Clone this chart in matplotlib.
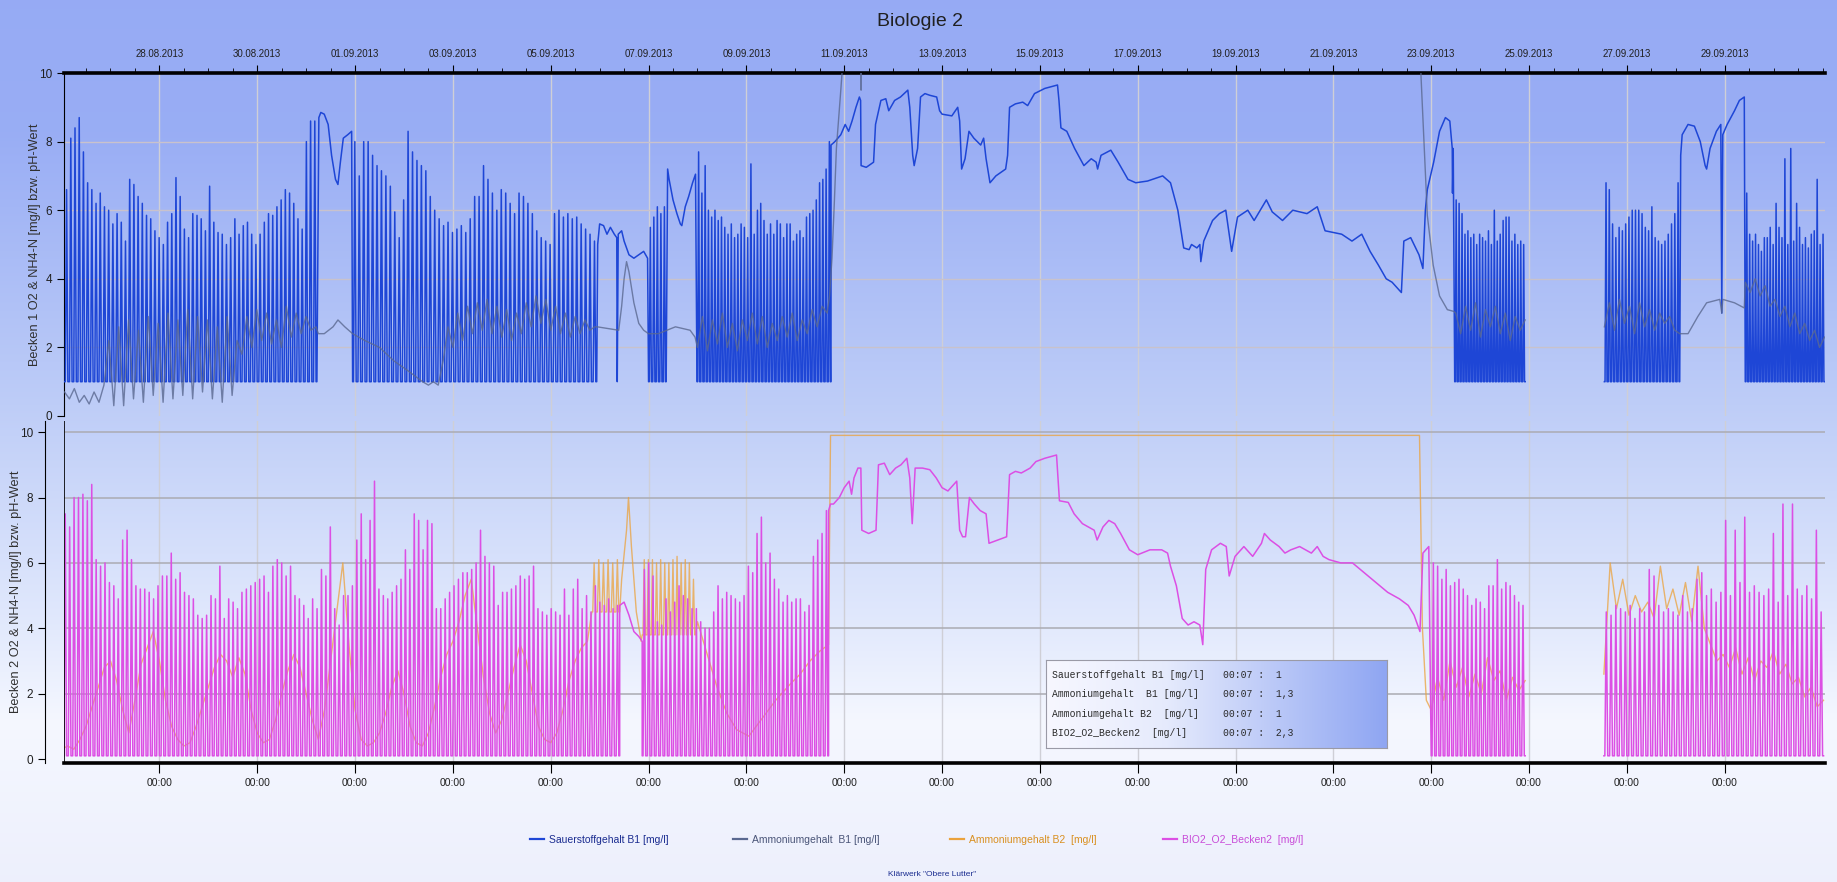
import numpy as np
import matplotlib
matplotlib.use('Agg')
import matplotlib.pyplot as plt
import matplotlib.dates as mdates
from matplotlib.ticker import FixedLocator
from matplotlib.lines import Line2D
from datetime import datetime

plt.rcParams['font.family'] = ['Liberation Sans', 'DejaVu Sans']
NARROW = ['Liberation Sans Narrow', 'Liberation Sans', 'DejaVu Sans']

# time axis: days after 26.08.2013 00:00
START = mdates.date2num(datetime(2013, 8, 26))
X_FROM, X_TO = 0.05, 36.05

#-----------------------------------------------------------------------------#
# Becken 1 - Sauerstoffgehalt B1 [mg/l]
# spike segments: (start day, end day, peak per aeration cycle), trough 1.0
O2B1_A = (0.06, 5.22, [6.6, 8.1, 8.4, 8.7, 7.7, 6.8, 6.6, 6.2, 6.5, 6.1, 6.0, 5.6, 5.9, 5.65,
                       5.1, 6.9, 6.75, 6.4, 6.2, 5.85, 5.75, 5.4, 5.2, 5.0, 5.65, 5.9, 6.95, 6.4,
                       5.45, 5.2, 5.9, 5.85, 5.75, 5.4, 6.7, 5.65, 5.35, 5.3, 5.0, 5.2, 5.75, 5.3,
                       5.55, 5.65, 5.3, 5.0, 5.3, 5.65, 5.9, 5.85, 6.1, 6.3, 6.6, 6.5, 6.2, 5.75,
                       5.45, 8.0, 8.6, 8.6])
O2B1_B = (5.95, 10.94, [8.0, 7.0, 8.0, 8.0, 7.6, 7.3, 7.15, 7.0, 6.7, 5.95, 5.2, 6.3, 8.3, 7.7,
                        7.45, 7.3, 7.15, 6.4, 6.0, 5.75, 5.55, 5.65, 5.35, 5.45, 5.55, 5.35, 5.75,
                        6.4, 6.4, 7.3, 6.9, 6.5, 6.0, 6.6, 6.5, 6.2, 5.9, 6.5, 6.4, 6.2, 5.9, 5.4,
                        5.2, 5.1, 5.0, 5.9, 6.0, 5.8, 5.9, 5.75, 5.8, 5.6, 5.45, 5.3, 5.1])
O2B1_B1 = (12.0, 12.36, [5.5, 5.8, 6.1, 5.9, 6.1])
O2B1_B2 = (12.99, 15.73, [7.7, 6.5, 7.3, 6.0, 5.8, 6.0, 5.7, 5.8, 5.5, 5.3, 5.6, 5.2, 5.3, 5.6,
                         5.5, 5.2, 7.35, 5.3, 6.0, 6.2, 5.7, 5.3, 5.6, 5.3, 5.7, 5.6, 5.2, 5.6,
                         5.6, 5.1, 5.3, 5.4, 5.2, 5.8, 5.9, 6.0, 6.3, 6.8, 6.9, 7.2, 8.0])
O2B1_C = (28.48, 29.92, [6.3, 6.2, 5.9, 5.3, 5.4, 5.2, 5.3, 5.0, 5.3, 5.2, 5.1, 5.4, 5.0, 6.0,
                         5.1, 5.3, 5.7, 5.8, 5.8, 5.1, 5.3, 5.0, 5.1, 5.0])
O2B1_D = (31.54, 33.08, [6.8, 6.6, 5.6, 5.2, 5.5, 5.4, 5.6, 5.8, 6.0, 6.0, 6.0, 5.9, 5.5, 5.4,
                         6.1, 5.2, 5.1, 5.0, 5.1, 5.3, 5.6, 5.9, 6.8])
O2B1_E = (34.42, 36.04, [6.5, 5.3, 5.1, 5.3, 5.0, 4.8, 5.2, 5.2, 5.5, 5.0, 6.2, 5.5, 5.2, 7.5,
                         5.0, 7.8, 5.1, 6.2, 5.5, 5.0, 5.2, 4.9, 5.3, 5.4, 6.9, 5.0, 5.3])
# continuous stretches (day, value)
O2B1_H1_T = [5.22, 5.26, 5.30, 5.37, 5.45, 5.52, 5.60, 5.65, 5.70, 5.76, 5.85, 5.93, 5.95]
O2B1_H1_V = [1.0, 8.7, 8.85, 8.8, 8.5, 7.6, 6.9, 6.75, 7.4, 8.1, 8.2, 8.3, 1.0]
O2B1_S1_T = [10.94, 10.96, 11.0, 11.08, 11.15, 11.22, 11.3, 11.35, 11.36, 11.38, 11.45, 11.5,
             11.6, 11.7, 11.8, 11.9, 11.98, 12.0]
O2B1_S1_V = [1.0, 5.0, 5.6, 5.55, 5.3, 5.5, 5.3, 5.2, 1.0, 5.3, 5.4, 5.1, 4.7, 4.6, 4.7, 4.8,
             4.6, 1.0]
O2B1_H2_T = [12.36, 12.39, 12.42, 12.5, 12.58, 12.65, 12.68, 12.75, 12.82, 12.9, 12.96, 12.99]
O2B1_H2_V = [1.0, 7.2, 6.9, 6.3, 5.9, 5.6, 5.55, 6.1, 6.4, 6.8, 7.05, 1.0]
O2B1_S2_T = [15.73, 15.81, 15.93, 16.02, 16.09, 16.16, 16.24, 16.31, 16.335, 16.345, 16.45,
             16.6, 16.64, 16.75, 16.85, 16.91, 17.03, 17.15, 17.3, 17.34, 17.4, 17.43, 17.5,
             17.56, 17.65, 17.75, 17.89, 17.95, 18.0, 18.2, 18.32, 18.36, 18.40, 18.47, 18.55,
             18.65, 18.79, 18.85, 18.9, 18.98, 19.1, 19.3, 19.34, 19.38, 19.5, 19.65, 19.75,
             19.89, 20.1, 20.36, 20.39, 20.43, 20.55, 20.71, 20.9, 21.05, 21.15, 21.18, 21.25,
             21.45, 21.6, 21.8, 21.96, 22.2, 22.51, 22.67, 22.82, 22.94, 23.05, 23.1, 23.21,
             23.27, 23.29, 23.35, 23.53, 23.67, 23.8, 23.92, 24.04, 24.25, 24.38, 24.63, 24.75,
             24.96, 25.17, 25.46, 25.67, 25.83, 26.17, 26.38, 26.58, 26.75, 26.92, 27.08, 27.2,
             27.39, 27.44, 27.58, 27.75, 27.83, 27.88, 27.92, 28.05, 28.17, 28.29, 28.38, 28.43,
             28.435, 28.45, 28.48]
O2B1_S2_V = [7.9, 8.0, 8.2, 8.5, 8.3, 8.6, 9.0, 9.3, 9.2, 7.3, 7.25, 7.4, 8.5, 9.2, 9.25, 8.9,
             9.2, 9.3, 9.5, 9.0, 7.6, 7.3, 7.8, 9.3, 9.4, 9.35, 9.3, 8.9, 8.8, 8.75, 9.0, 8.6,
             7.2, 7.5, 8.3, 8.1, 7.9, 8.1, 7.5, 6.8, 7.0, 7.2, 7.6, 9.0, 9.1, 9.15, 9.05, 9.4,
             9.55, 9.65, 9.2, 8.4, 8.3, 7.8, 7.3, 7.5, 7.4, 7.2, 7.6, 7.75, 7.4, 6.9, 6.8, 6.85,
             7.0, 6.8, 6.0, 4.9, 4.85, 5.0, 4.9, 5.0, 4.5, 5.1, 5.7, 5.9, 6.0, 4.8, 5.8, 6.0,
             5.7, 6.3, 5.95, 5.7, 6.0, 5.9, 6.1, 5.4, 5.3, 5.1, 5.3, 4.8, 4.4, 4.0, 3.9, 3.6,
             5.1, 5.2, 4.7, 4.3, 6.0, 6.6, 7.4, 8.3, 8.7, 8.6, 7.8, 6.5, 7.8, 1.0]
O2B1_H3_T = [33.08, 33.1, 33.13, 33.25, 33.38, 33.5, 33.6, 33.63, 33.7, 33.83, 33.92, 33.94,
             33.96, 34.05, 34.2, 34.3, 34.4, 34.42]
O2B1_H3_V = [1.0, 7.6, 8.2, 8.5, 8.45, 8.0, 7.3, 7.2, 7.8, 8.3, 8.5, 3.0, 8.2, 8.5, 8.9, 9.2,
             9.3, 1.0]

# Becken 1 - Ammoniumgehalt B1 [mg/l]  (values > 10 are off scale)
NH4B1_A = (0.06, 5.2, [0.7, 0.5, 0.8, 0.4, 0.6, 0.35, 0.7, 0.4, 0.9, 2.2, 0.3, 2.6, 0.3, 2.8,
                       0.5, 2.5, 0.4, 2.9, 0.6, 2.7, 0.4, 3.0, 0.5, 2.8, 0.6, 3.1, 0.5, 2.9, 0.7,
                       2.8, 0.5, 2.6, 0.4, 2.9, 0.6, 2.2, 1.8, 2.9, 2.0, 3.1, 2.2, 3.0, 2.1, 2.8,
                       2.0, 3.2, 2.3, 3.0, 2.4, 2.9, 2.5, 2.6])
NH4B1_S1_T = [5.25, 5.37, 5.55, 5.65, 5.79, 5.95, 6.2, 6.5, 6.8, 7.1, 7.38, 7.5, 7.6, 7.7]
NH4B1_S1_V = [2.4, 2.4, 2.6, 2.8, 2.6, 2.4, 2.2, 2.0, 1.6, 1.3, 1.0, 0.9, 1.0, 0.9]
NH4B1_B = (7.8, 10.9, [1.6, 2.6, 2.0, 3.0, 2.2, 3.2, 2.4, 3.3, 2.5, 3.4, 2.4, 3.2, 2.3, 3.1, 2.2,
                       3.0, 2.4, 3.3, 2.6, 3.5, 2.7, 3.4, 2.5, 3.2, 2.4, 3.0, 2.3, 2.9, 2.4, 2.8,
                       2.5, 2.6])
NH4B1_S2_T = [10.95, 11.39, 11.45, 11.5, 11.55, 11.6, 11.7, 11.8, 11.9, 12.0, 12.2, 12.55,
              12.85, 12.95]
NH4B1_S2_V = [2.6, 2.5, 3.2, 4.0, 4.5, 4.2, 3.3, 2.7, 2.5, 2.4, 2.4, 2.6, 2.5, 2.3]
NH4B1_B2 = (13.0, 15.65, [2.0, 2.9, 1.9, 2.8, 2.1, 3.0, 2.0, 2.7, 1.9, 2.8, 2.2, 3.0, 2.1, 2.9,
                          2.0, 2.7, 2.2, 2.9, 2.3, 3.0, 2.2, 2.8, 2.4, 3.1, 2.6, 3.2, 3.0])
NH4B1_S3_T = [15.7, 15.75, 15.8, 15.84, 15.93, 15.98, 16.0, 16.34, 16.345, 16.35, 27.78,
              27.79, 27.875, 27.92, 28.04, 28.17, 28.33, 28.46]
NH4B1_S3_V = [3.5, 4.6, 6.3, 7.8, 9.5, 10.5, 12.0, 12.0, 9.5, 12.0, 12.0, 9.95, 7.3, 5.85, 4.4,
              3.5, 3.1, 3.05]
NH4B1_C = (28.5, 29.92, [3.0, 2.4, 3.2, 2.5, 3.3, 2.3, 3.1, 2.6, 3.2, 2.4, 3.0, 2.2, 2.9, 2.5,
                         2.8])
NH4B1_D = (31.54, 33.08, [2.6, 3.3, 2.5, 3.4, 2.7, 3.2, 2.4, 3.3, 2.6, 3.1, 2.5, 3.0, 2.7, 2.9,
                          2.5, 2.4])
NH4B1_S4_T = [33.1, 33.25, 33.45, 33.63, 33.9, 33.94, 33.96, 34.2, 34.4]
NH4B1_S4_V = [2.4, 2.4, 2.9, 3.3, 3.4, 3.0, 3.4, 3.3, 3.15]
NH4B1_E = (34.42, 36.04, [3.9, 3.6, 4.0, 3.5, 3.8, 3.2, 3.4, 2.9, 3.2, 2.6, 3.0, 2.4, 2.7, 2.2,
                          2.5, 2.0, 2.3])

#-----------------------------------------------------------------------------#
# Becken 2 - BIO2_O2_Becken2 [mg/l]  (trough 0.1)
O2B2_A = (0.03, 11.41, [7.5, 7.1, 8.0, 8.0, 8.1, 7.9, 8.4, 6.1, 5.9, 6.0, 5.4, 5.3, 4.9, 6.7,
                        7.0, 6.1, 5.3, 5.2, 5.2, 5.1, 4.9, 5.3, 5.6, 5.6, 6.3, 5.5, 5.7, 5.1, 5.0,
                        4.9, 4.4, 4.3, 4.4, 5.0, 4.9, 5.9, 4.3, 4.9, 4.8, 4.6, 5.1, 5.2, 5.3, 5.4,
                        5.5, 5.6, 5.1, 5.9, 6.1, 6.0, 5.6, 5.9, 5.0, 4.9, 4.7, 4.3, 4.9, 4.6, 5.8,
                        5.6, 7.1, 4.6, 4.1, 5.0, 5.0, 5.3, 6.7, 7.5, 6.1, 7.3, 8.5, 5.2, 5.0, 4.9,
                        5.1, 5.3, 5.5, 6.4, 5.8, 7.5, 7.3, 6.4, 7.3, 7.2, 4.6, 4.6, 4.9, 5.1, 5.3,
                        5.5, 5.7, 5.7, 5.8, 6.0, 7.0, 6.2, 6.0, 5.9, 4.7, 5.1, 5.1, 5.2, 5.3, 5.6,
                        5.5, 5.6, 5.9, 4.6, 4.5, 4.4, 4.6, 4.5, 4.4, 5.2, 4.4, 5.2, 5.5, 4.6, 5.0,
                        4.5, 5.3, 4.8, 4.7, 4.9, 4.6, 4.7])
O2B2_B = (11.87, 15.68, [5.8, 6.0, 5.6, 4.2, 4.1, 4.9, 4.5, 4.8, 5.3, 5.0, 4.9, 4.6, 4.6, 4.2,
                         4.0, 4.0, 4.5, 5.3, 4.9, 5.1, 5.0, 4.9, 4.8, 5.0, 5.9, 5.7, 6.9, 7.4, 6.0,
                         6.3, 5.5, 5.2, 4.8, 5.0, 4.8, 4.9, 4.9, 4.5, 4.7, 6.2, 6.7, 6.9, 7.6])
O2B2_C = (28.0, 29.92, [6.0, 5.9, 5.5, 5.8, 5.3, 5.4, 5.5, 5.2, 5.0, 4.7, 4.9, 4.8, 4.6, 5.3,
                        5.3, 6.1, 5.2, 5.4, 5.3, 5.0, 4.8, 4.7])
O2B2_D = (31.53, 36.02, [4.5, 4.4, 4.7, 4.6, 4.5, 4.7, 4.3, 4.6, 4.5, 5.8, 5.6, 4.7, 4.5, 4.6,
                         4.5, 4.4, 5.0, 4.5, 4.6, 5.5, 5.7, 5.0, 5.2, 4.8, 5.1, 7.3, 5.0, 7.0, 5.4,
                         7.4, 5.1, 5.3, 5.1, 5.0, 5.2, 6.9, 4.8, 7.8, 5.0, 7.8, 5.2, 5.0, 5.3, 4.9,
                         7.0, 4.5])
O2B2_S1_T = [11.41, 11.5, 11.6, 11.7, 11.8, 11.87]
O2B2_S1_V = [4.7, 4.8, 4.4, 3.9, 3.75, 3.6]
O2B2_S2_T = [15.68, 15.72, 15.78, 15.9, 16.0, 16.1, 16.15, 16.2, 16.28, 16.34, 16.36, 16.5,
             16.65, 16.7, 16.82, 16.93, 17.05, 17.16, 17.28, 17.34, 17.39, 17.45, 17.6, 17.75,
             17.88, 18.0, 18.12, 18.3, 18.36, 18.42, 18.48, 18.56, 18.66, 18.78, 18.9, 18.96,
             19.14, 19.32, 19.38, 19.5, 19.62, 19.8, 19.92, 20.1, 20.34, 20.4, 20.58, 20.7,
             20.87, 21.11, 21.17, 21.29, 21.41, 21.53, 21.65, 21.83, 22.0, 22.25, 22.49, 22.61,
             22.67, 22.79, 22.91, 23.03, 23.15, 23.27, 23.33, 23.39, 23.51, 23.69, 23.81, 23.87,
             23.99, 24.17, 24.35, 24.53, 24.59, 24.71, 24.89, 25.01, 25.13, 25.31, 25.55, 25.67,
             25.79, 25.91, 26.15, 26.39, 26.63, 26.87, 27.11, 27.35, 27.53, 27.65, 27.77, 27.83,
             27.95, 28.0]
O2B2_S2_V = [7.6, 7.8, 7.8, 8.0, 8.3, 8.5, 8.1, 8.6, 8.9, 8.9, 7.0, 6.9, 7.0, 9.0, 9.05, 8.7,
             8.9, 9.0, 9.2, 8.6, 7.2, 8.9, 8.9, 8.85, 8.6, 8.3, 8.2, 8.5, 7.0, 6.8, 6.8, 8.0, 7.8,
             7.6, 7.5, 6.6, 6.7, 6.8, 8.7, 8.8, 8.75, 8.9, 9.1, 9.2, 9.3, 7.9, 7.85, 7.5, 7.2,
             7.0, 6.7, 7.1, 7.3, 7.2, 6.9, 6.4, 6.25, 6.4, 6.4, 6.3, 5.9, 5.3, 4.3, 4.1, 4.2,
             4.1, 3.5, 5.8, 6.4, 6.6, 6.5, 5.6, 6.2, 6.5, 6.2, 6.6, 6.9, 6.7, 6.5, 6.3, 6.4,
             6.5, 6.3, 6.5, 6.2, 6.1, 6.0, 6.0, 5.7, 5.4, 5.1, 4.9, 4.7, 4.4, 3.9, 6.3, 6.5, 0.1]

# Becken 2 - Ammoniumgehalt B2 [mg/l]
NH4B2_A = (0.0, 10.75, [0.3, 0.4, 0.3, 0.6, 1.0, 1.6, 2.2, 2.8, 3.0, 2.4, 1.5, 0.8, 1.8, 2.9,
                        3.4, 3.9, 3.0, 1.8, 1.0, 0.6, 0.4, 0.5, 1.0, 1.6, 2.2, 2.8, 3.2, 3.0, 2.5,
                        3.1, 2.6, 1.5, 0.8, 0.5, 0.6, 1.2, 2.0, 2.7, 3.2, 2.8, 2.0, 1.2, 0.6, 1.5,
                        3.0, 4.5, 6.0, 3.5, 1.5, 0.6, 0.4, 0.5, 0.8, 1.4, 2.2, 2.7, 2.0, 1.0, 0.5,
                        0.4, 0.8, 1.6, 2.5, 3.2, 3.6, 4.2, 5.0, 5.5, 4.0, 2.5, 1.4, 0.8, 1.2, 2.0,
                        2.8, 3.5, 3.0, 2.0, 1.0, 0.6, 0.5, 0.8, 1.5, 2.4, 3.0, 3.4, 3.6])
NH4B2_B = (10.84, 11.41, [6.0, 6.1, 6.0, 6.1, 6.0, 6.1])
NH4B2_S1_T = [11.45, 11.55, 11.59, 11.65, 11.75, 11.85]
NH4B2_S1_V = [5.5, 7.0, 8.0, 6.5, 4.5, 3.6]
NH4B2_C = (11.87, 12.96, [6.1, 6.1, 6.1, 6.0, 6.1, 6.0, 6.0, 6.1, 6.2, 6.0, 6.1, 6.0, 5.5])
NH4B2_S2_T = [13.0, 13.2, 13.4, 13.6, 13.8, 14.05, 14.3, 14.6, 14.9, 15.1, 15.3, 15.5, 15.68,
              15.72, 27.76, 27.82, 27.9]
NH4B2_S2_V = [4.2, 3.2, 2.2, 1.4, 0.9, 0.7, 1.2, 1.8, 2.3, 2.6, 3.0, 3.3, 3.5, 9.9, 9.9, 4.0,
              1.8]
NH4B2_D = (28.0, 29.92, [1.5, 2.5, 1.8, 3.0, 2.2, 2.8, 1.9, 2.6, 2.0, 3.1, 2.4, 2.7, 1.8, 2.5,
                         2.1, 2.4])
NH4B2_E = (31.53, 36.02, [2.6, 6.0, 4.6, 5.5, 4.4, 5.0, 4.5, 4.8, 4.3, 5.9, 4.6, 5.2, 4.4, 5.4,
                          4.2, 5.9, 4.0, 3.5, 3.0, 3.2, 2.8, 3.4, 2.6, 3.1, 2.4, 3.0, 2.8, 3.3,
                          2.6, 2.9, 2.3, 2.5, 1.9, 2.2, 1.6, 1.8])

SERIES = ['Sauerstoffgehalt B1 [mg/l]', 'Ammoniumgehalt  B1 [mg/l]',
          'Ammoniumgehalt B2  [mg/l]', 'BIO2_O2_Becken2  [mg/l]']
CURSOR = ['1', '1,3', '1', '2,3']
COLORS = ['#1e46d6', '#5a6890', '#eba23c', '#dc4fe4']
LEG_TEXT = ['#1a2c90', '#4a5578', '#d99020', '#c84cd8']


def spikes(seg, base):
    # one sharp peak per cycle, flat at base value between
    t0, t1, peaks = seg
    edges = np.linspace(t0, t1, len(peaks) + 1)
    xs, ys = [], []
    for i, p in enumerate(peaks):
        a, w = edges[i], edges[i + 1] - edges[i]
        xs += [a, a + 0.2 * w, a + 0.5 * w, a + 0.8 * w]
        ys += [base, base, p, base]
    return xs + [t1], ys + [base]


def zigzag(seg):
    t0, t1, vals = seg
    return list(np.linspace(t0, t1, len(vals))), list(vals)


def join(*parts):
    xs, ys = [], []
    for px, py in parts:
        xs += list(px)
        ys += list(py)
    return START + np.array(xs), np.array(ys)


GAP = ([29.93], [np.nan])

o2b1_x, o2b1_y = join(spikes(O2B1_A, 1.0), (O2B1_H1_T, O2B1_H1_V), spikes(O2B1_B, 1.0),
                      (O2B1_S1_T, O2B1_S1_V), spikes(O2B1_B1, 1.0), (O2B1_H2_T, O2B1_H2_V),
                      spikes(O2B1_B2, 1.0), (O2B1_S2_T, O2B1_S2_V), spikes(O2B1_C, 1.0), GAP,
                      spikes(O2B1_D, 1.0), (O2B1_H3_T, O2B1_H3_V), spikes(O2B1_E, 1.0))
nh4b1_x, nh4b1_y = join(zigzag(NH4B1_A), (NH4B1_S1_T, NH4B1_S1_V), zigzag(NH4B1_B),
                        (NH4B1_S2_T, NH4B1_S2_V), zigzag(NH4B1_B2), (NH4B1_S3_T, NH4B1_S3_V),
                        zigzag(NH4B1_C), GAP, zigzag(NH4B1_D), (NH4B1_S4_T, NH4B1_S4_V),
                        zigzag(NH4B1_E))
o2b2_x, o2b2_y = join(spikes(O2B2_A, 0.1), (O2B2_S1_T, O2B2_S1_V), spikes(O2B2_B, 0.1),
                      (O2B2_S2_T, O2B2_S2_V), spikes(O2B2_C, 0.1), GAP, spikes(O2B2_D, 0.1))
nh4b2_x, nh4b2_y = join(zigzag(NH4B2_A), spikes(NH4B2_B, 4.5), (NH4B2_S1_T, NH4B2_S1_V),
                        spikes(NH4B2_C, 3.8), (NH4B2_S2_T, NH4B2_S2_V), zigzag(NH4B2_D), GAP,
                        zigzag(NH4B2_E))

#-----------------------------------------------------------------------------#
W, H = 1837, 882
fig = plt.figure(figsize=(W / 100, H / 100), dpi=100)

# background gradient (top blue -> white)
bg = fig.add_axes([0, 0, 1, 1], zorder=-10)
stops = [0.0, 0.15, 0.45, 0.7, 0.82, 1.0]
rgb = np.array([[0.59, 0.67, 0.96], [0.60, 0.68, 0.96], [0.74, 0.80, 0.97],
                [0.88, 0.91, 0.99], [0.96, 0.97, 1.0], [0.93, 0.94, 0.99]])
yy = np.linspace(0, 1, 400)
grad = np.stack([np.interp(yy, stops, rgb[:, k]) for k in range(3)], axis=1)
bg.imshow(grad[:, None, :], aspect='auto', extent=[0, 1, 0, 1])
bg.axis('off')

L, R = 64 / W, 1825 / W
ax1 = fig.add_axes([L, 1 - 416 / H, R - L, (416 - 73) / H])
ax2 = fig.add_axes([L, 1 - 763 / H, R - L, (763 - 421) / H])

majors = START + np.arange(2, 36, 2)
minors = START + np.arange(0.5, 36.5, 0.5)

for ax in (ax1, ax2):
    ax.set_facecolor('none')
    ax.set_xlim(START + X_FROM, START + X_TO)
    ax.xaxis.set_major_locator(FixedLocator(majors))
    ax.spines['right'].set_visible(False)
    ax.tick_params(axis='y', labelsize=8.5, labelcolor='#202020', length=5, width=0.8)
    ax.set_yticks([0, 2, 4, 6, 8, 10])
    for m in majors:
        ax.axvline(m, color='#cfcfd6', lw=1.0, zorder=0)

# upper panel
ax1.set_ylim(0, 10)
for v in (2, 4, 6, 8):
    ax1.axhline(v, color='#c9c2cc', lw=1.0, zorder=0)
ax1.spines['bottom'].set_visible(False)
ax1.spines['top'].set_linewidth(2.6)
ax1.xaxis.set_minor_locator(FixedLocator(minors))
ax1.xaxis.set_major_formatter(mdates.DateFormatter('%d.%m.%Y'))
ax1.tick_params(axis='x', which='both', top=True, bottom=False, labeltop=True,
                labelbottom=False, direction='out')
ax1.tick_params(axis='x', which='major', length=6, pad=4, labelsize=7, labelcolor='#202020')
ax1.tick_params(axis='x', which='minor', length=3.5)
for lab in ax1.get_xticklabels():
    lab.set_family(NARROW)
ax1.plot(o2b1_x, o2b1_y, color=COLORS[0], lw=1.1, zorder=3)
ax1.plot(nh4b1_x, nh4b1_y, color=COLORS[1], lw=1.0, alpha=0.8, zorder=4)
ax1.set_ylabel('Becken 1 O2 & NH4-N [mg/l] bzw. pH-Wert', fontsize=9.2, color='#303030')
ax1.yaxis.set_label_coords((41 - 64) / (1825 - 64), 0.5)

# lower panel
ax2.set_ylim(-0.12, 10.34)
for v in (2, 4, 6, 8, 10):
    ax2.axhline(v, color='#ababb2', lw=1.1, zorder=0)
ax2.spines['top'].set_visible(False)
ax2.spines['bottom'].set_linewidth(2.6)
ax2.spines['left'].set_position(('outward', 13.7))
ax2.axvline(START + X_FROM, color='black', lw=1.2, zorder=5)
ax2.xaxis.set_major_formatter(mdates.DateFormatter('%H:%M'))
ax2.tick_params(axis='x', which='major', length=7, pad=4, labelsize=7.5, labelcolor='#202020')
for lab in ax2.get_xticklabels():
    lab.set_family(NARROW)
ax2.plot(nh4b2_x, nh4b2_y, color=COLORS[2], lw=1.0, alpha=0.75, zorder=3)
ax2.plot(o2b2_x, o2b2_y, color=COLORS[3], lw=1.1, zorder=4)
ax2.set_ylabel('Becken 2 O2 & NH4-N [mg/l] bzw. pH-Wert', fontsize=9.2, color='#303030')
ax2.yaxis.set_label_coords((22 - 64) / (1825 - 64), 0.5)

# cursor info box
bx = fig.add_axes([1046 / W, 1 - 748 / H, 341 / W, 88 / H], zorder=6)
xx = np.linspace(0, 1, 300)
hstops = [0.0, 0.35, 1.0]
hrgb = np.array([[0.97, 0.97, 1.0], [0.90, 0.92, 0.99], [0.56, 0.65, 0.95]])
hgrad = np.stack([np.interp(xx, hstops, hrgb[:, k]) for k in range(3)], axis=1)
bx.imshow(hgrad[None, :, :], aspect='auto', extent=[0, 1, 0, 1])
bx.set_xticks([])
bx.set_yticks([])
for s in bx.spines.values():
    s.set_color('#9a9aa6')
for i, (name, val) in enumerate(zip(SERIES, CURSOR)):
    y = 1 - (675 + i * 19.3) / H
    fig.text(1052 / W, y, name, fontsize=7, family='Liberation Mono', color='#2a2a2a',
             va='center', zorder=7)
    fig.text(1223 / W, y, '00:07 :  ' + val, fontsize=7, family='Liberation Mono',
             color='#2a2a2a', va='center', zorder=7)

# title, legend, footer
fig.text(920 / W, 1 - 21 / H, 'Biologie 2', fontsize=14, ha='center', va='center',
         color='#202020')
leg_x = [530, 733, 950, 1163]
for i, name in enumerate(['Sauerstoffgehalt B1 [mg/l]', 'Ammoniumgehalt  B1 [mg/l]',
                          'Ammoniumgehalt B2  [mg/l]', 'BIO2_O2_Becken2  [mg/l]']):
    x0 = leg_x[i]
    fig.add_artist(Line2D([x0 / W, (x0 + 14) / W], [1 - 839 / H] * 2, color=COLORS[i],
                          lw=1.6))
    fig.text((x0 + 19) / W, 1 - 840 / H, name, fontsize=7.5, family=NARROW,
             color=LEG_TEXT[i], va='center')
fig.text(932 / W, 1 - 874 / H, 'Klärwerk "Obere Lutter"', fontsize=6, family=NARROW,
         color='#1a2c90', ha='center', va='center')

plt.savefig('out.png', dpi=100)
